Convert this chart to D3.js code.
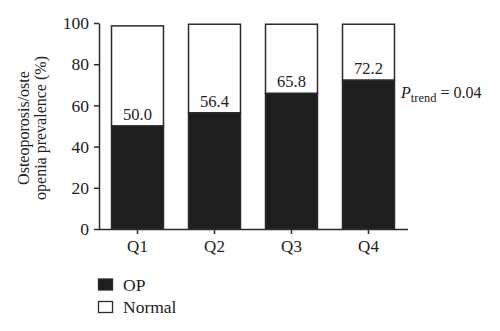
<!DOCTYPE html>
<html>
<head>
<meta charset="utf-8">
<script src="https://cdn.jsdelivr.net/npm/d3@7"></script>
<style>
  html, body { margin: 0; padding: 0; background: #fff; }
  svg { display: block; }
  text { font-family: "Liberation Serif", "Times New Roman", serif; fill: #222; }
</style>
</head>
<body>
<div id="chart"></div>
<script>
const categories = ["Q1", "Q2", "Q3", "Q4"];
const opValues = [50.0, 56.4, 65.8, 72.2];
const normalValues = [48.6, 43.0, 33.6, 27.2];
const valueLabels = ["50.0", "56.4", "65.8", "72.2"];
const yTicks = [0, 20, 40, 60, 80, 100];
const seriesNames = ["OP", "Normal"];
const yTitleLines = ["Osteoporosis/oste", "openia prevalence (%)"];

const W = 500, H = 331;
const svg = d3.select("#chart").append("svg").attr("width", W).attr("height", H);

const x = d3.scaleBand().domain(categories).range([99, 407])
  .paddingInner(0.325).paddingOuter(0.1625);
const y = d3.scaleLinear().domain([0, 100]).range([229, 23]);

const ink = "#2b2b2b";
const dark = "#1e1e1e";

const rows = categories.map((c, i) => ({ cat: c, op: opValues[i], normal: normalValues[i], label: valueLabels[i] }));

// Normal (white) segments
svg.append("g").selectAll("rect.normal").data(rows).join("rect")
  .attr("class", "normal")
  .attr("x", d => x(d.cat))
  .attr("width", x.bandwidth())
  .attr("y", d => y(d.op + d.normal))
  .attr("height", d => y(d.op) - y(d.op + d.normal))
  .attr("fill", "#fff").attr("stroke", ink).attr("stroke-width", 1.5);

// OP (black) segments
svg.append("g").selectAll("rect.op").data(rows).join("rect")
  .attr("class", "op")
  .attr("x", d => x(d.cat))
  .attr("width", x.bandwidth())
  .attr("y", d => y(d.op))
  .attr("height", d => y(0) - y(d.op))
  .attr("fill", dark).attr("stroke", ink).attr("stroke-width", 1.5);

// Value labels
svg.append("g").selectAll("text").data(rows).join("text")
  .attr("x", d => x(d.cat) + x.bandwidth() / 2)
  .attr("y", d => y(d.op) - 6)
  .attr("text-anchor", "middle")
  .attr("font-size", 16.5)
  .text(d => d.label);

// Axes
const yAxis = d3.axisLeft(y).tickValues(yTicks).tickSize(5).tickSizeOuter(0).tickPadding(5);
const gy = svg.append("g").attr("transform", "translate(99,0)").call(yAxis);
gy.selectAll("path, line").attr("stroke", ink).attr("stroke-width", 1.5);
gy.selectAll("text").attr("font-size", 17.5).attr("fill", "#222")
  .style("font-family", '"Liberation Serif", serif');

const xAxis = d3.axisBottom(x).tickSize(5).tickSizeOuter(0).tickPadding(6);
const gx = svg.append("g").attr("transform", "translate(0,229)").call(xAxis);
gx.select("path.domain").attr("d", "M99,0.5H408");
gx.selectAll("path, line").attr("stroke", ink).attr("stroke-width", 1.5);
gx.selectAll("text").attr("font-size", 17).attr("fill", "#222")
  .style("font-family", '"Liberation Serif", serif');

// Y axis title
const yt = svg.append("text")
  .attr("transform", "translate(29,128) rotate(-90)")
  .attr("text-anchor", "middle")
  .attr("font-size", 16);
yt.selectAll("tspan").data(yTitleLines).join("tspan")
  .attr("x", 0).attr("dy", (d, i) => i === 0 ? 0 : 17)
  .text(d => d);

// P trend annotation
const pt = svg.append("text").attr("x", 401).attr("y", 98).attr("font-size", 16);
pt.append("tspan").attr("font-style", "italic").text("P");
pt.append("tspan").attr("font-size", 12.5).attr("dy", 3.5).text("trend");
pt.append("tspan").attr("dy", -3.5).text(" = 0.04");

// Legend
const legend = svg.append("g");
const fills = [dark, "#fff"];
seriesNames.forEach((name, i) => {
  const g = legend.append("g").attr("transform", `translate(98,${279 + i * 22.5})`);
  g.append("rect").attr("x", 0.5).attr("y", 0).attr("width", 14).attr("height", 11)
    .attr("fill", fills[i]).attr("stroke", ink).attr("stroke-width", 1.3);
  g.append("text").attr("x", 25).attr("y", 11.5).attr("font-size", 17.5).text(name);
});
</script>
</body>
</html>
